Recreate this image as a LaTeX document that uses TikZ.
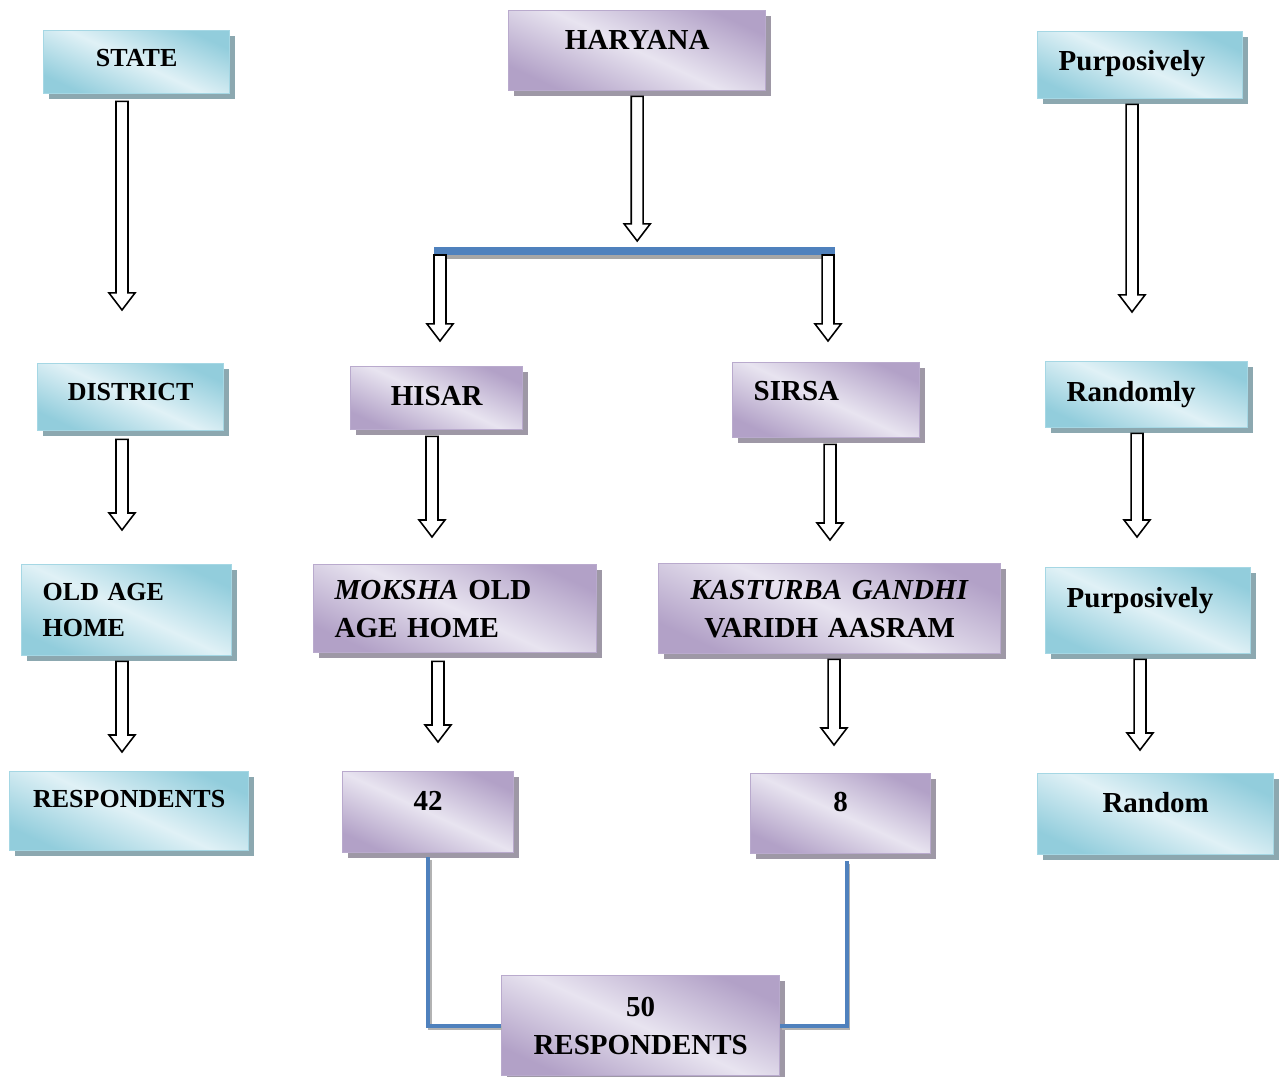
\documentclass[tikz,border=0pt]{standalone}
\usepackage{fontspec}
\setmainfont{Liberation Serif}
\usetikzlibrary{calc,shadows}

\definecolor{cyanDark}{RGB}{146,205,220}
\definecolor{cyanLight}{RGB}{224,241,246}
\definecolor{cyanLine}{RGB}{165,215,228}
\definecolor{cyanShadow}{RGB}{140,168,176}
\definecolor{lilacDark}{RGB}{178,161,199}
\definecolor{lilacLight}{RGB}{232,228,240}
\definecolor{lilacLine}{RGB}{185,170,205}
\definecolor{lilacShadow}{RGB}{158,152,166}
\definecolor{barBlue}{RGB}{79,129,189}

\newcommand\bigtext{\fontsize{16.5}{21.6}\selectfont\bfseries}
\newcommand\smalltext{\fontsize{14.8}{20.5}\selectfont\bfseries}

% hollow block arrow, straight down from #1 to the height of #2
\newcommand\hollowarrow[2]{%
  \draw[hollow] let \p1=(#1), \p2=(#2) in
    (\x1-3.4pt,\y1) -- (\x1-3.4pt,\y2+9.7pt) -- (\x1-7.4pt,\y2+9.7pt) -- (\x1,\y2)
    -- (\x1+7.4pt,\y2+9.7pt) -- (\x1+3.4pt,\y2+9.7pt) -- (\x1+3.4pt,\y1) -- cycle;}

\tikzset{
  tbox/.style={anchor=north west, inner xsep=0.42cm, inner ysep=0pt, line width=0.8pt, font=\bigtext},
  cyanbox/.style={tbox, draw=cyanLine, top color=cyanDark, bottom color=cyanDark,
    middle color=cyanLight, shading angle=-25,
    drop shadow={shadow xshift=0.1cm, shadow yshift=-0.1cm, fill=cyanShadow, opacity=1}},
  lilacbox/.style={tbox, draw=lilacLine, top color=lilacDark, bottom color=lilacDark,
    middle color=lilacLight, shading angle=-25,
    drop shadow={shadow xshift=0.1cm, shadow yshift=-0.1cm, fill=lilacShadow, opacity=1}},
  oneline/.style n args={3}{text width=#1cm, text height=#2cm, text depth=#3cm},
  hollow/.style={draw=black, fill=white, line width=0.9pt, line join=miter},
  blueline/.style={draw=barBlue, line width=2.3pt,
    preaction={draw=gray!60, line width=2.3pt, transform canvas={shift={(0.8pt,-1.5pt)}}}},
  bluebar/.style={draw=barBlue, line width=4pt,
    preaction={draw=gray!70, line width=4pt, transform canvas={shift={(0pt,-2.5pt)}}}}
}

\begin{document}
\begin{tikzpicture}[x=0.02cm, y=-0.02cm]
\useasboundingbox (0,0) rectangle (1280,1077);

% left column
\node (state)[cyanbox, oneline={2.88}{0.72}{0.54}, align=center, font=\smalltext] at (43,30) {STATE};
\node (district)[cyanbox, oneline={2.88}{0.74}{0.60}, align=center, font=\smalltext] at (37,363) {DISTRICT};
\node (oldage)[cyanbox, text width=3.36cm, minimum height=1.82cm, align=left, font=\smalltext] at (21,564) {OLD AGE\\HOME};
\node (resp)[cyanbox, oneline={3.94}{0.72}{0.86}, align=center, font=\smalltext] at (9,771) {RESPONDENTS};

% middle
\node (haryana)[lilacbox, oneline={4.30}{0.78}{0.82}, align=center] at (508,10) {HARYANA};
\node (hisar)[lilacbox, oneline={2.60}{0.78}{0.48}, align=center] at (350,366) {HISAR};
\node (sirsa)[lilacbox, oneline={2.90}{0.76}{0.74}, align=left] at (732,362) {SIRSA};
\node (moksha)[lilacbox, text width=4.82cm, minimum height=1.76cm, align=left] at (313,564) {\textit{MOKSHA} OLD\\AGE HOME};
\node (kasturba)[lilacbox, text width=6.00cm, minimum height=1.80cm, align=center] at (658,563) {\textit{KASTURBA GANDHI}\\VARIDH AASRAM};
\node (n42)[lilacbox, oneline={2.58}{0.78}{0.84}, align=center] at (342,771) {42};
\node (n8)[lilacbox, oneline={2.76}{0.76}{0.84}, align=center] at (750,773) {8};
\node (total)[lilacbox, text width=4.72cm, minimum height=2.00cm, align=center] at (501,975) {50\\RESPONDENTS};

% right column
\node (purpA)[cyanbox, oneline={3.26}{0.78}{0.56}, align=left] at (1037,31) {Purposively};
\node (randomly)[cyanbox, oneline={3.20}{0.80}{0.52}, align=left] at (1045,361) {Randomly};
\node (purpB)[cyanbox, oneline={3.26}{0.80}{0.92}, align=left] at (1045,567) {Purposively};
\node (random)[cyanbox, oneline={3.88}{0.78}{0.84}, align=center] at (1037,773) {Random};

% split bar under HARYANA
\coordinate (barL) at (434,251);
\coordinate (barR) at (835,251);
\draw[bluebar] (barL) -- (barR);

% arrows
\hollowarrow{$(state.south west)+(79,7)$}{$(district.north)+(0,-53)$}
\hollowarrow{$(district.south west)+(85,8)$}{$(oldage.north)+(0,-34)$}
\hollowarrow{$(oldage.south west)+(101,5)$}{$(resp.north)+(0,-19)$}
\hollowarrow{$(haryana.south)+(0,5)$}{$(barL)+(0,-10)$}
\hollowarrow{$(barL)+(6,4)$}{$(hisar.north)+(0,-25)$}
\hollowarrow{$(barR)+(-7,4)$}{$(sirsa.north)+(0,-21)$}
\hollowarrow{$(hisar.south west)+(82,6)$}{$(moksha.north)+(0,-27)$}
\hollowarrow{$(sirsa.south west)+(98,6)$}{$(kasturba.north)+(0,-23)$}
\hollowarrow{$(moksha.south west)+(125,8)$}{$(n42.north)+(0,-29)$}
\hollowarrow{$(kasturba.south west)+(176,5)$}{$(n8.north)+(0,-28)$}
\hollowarrow{$(purpA.south west)+(95,5)$}{$(randomly.north)+(0,-49)$}
\hollowarrow{$(randomly.south west)+(92,5)$}{$(purpB.north)+(0,-30)$}
\hollowarrow{$(purpB.south west)+(95,5)$}{$(random.north)+(0,-23)$}

% totals
\draw[blueline] ($(n42.south)+(0,4)$) |- (total.west);
\draw[blueline] ($(n8.south)+(6,7)$) |- (total.east);
\end{tikzpicture}
\end{document}
